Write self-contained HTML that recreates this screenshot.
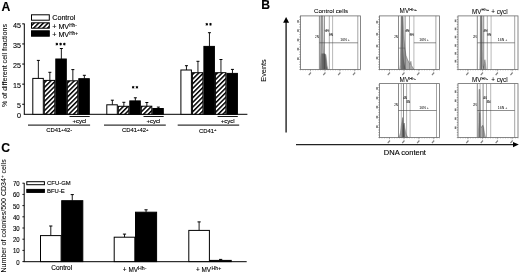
<!DOCTYPE html>
<html><head><meta charset="utf-8"><style>
html,body{margin:0;padding:0;background:#fff;}
svg{display:block;filter:grayscale(100%);}
text{font-family:"Liberation Sans", sans-serif;fill:#000;stroke:#000;stroke-width:0.12px;}
text.t{stroke-width:0.05px;}
text.s{stroke:none;}
</style></head><body>
<svg width="520" height="273" viewBox="0 0 520 273">
<defs>
<pattern id="hatch" patternUnits="userSpaceOnUse" width="3.3" height="3.3" patternTransform="rotate(45)">
<rect x="0" y="0" width="3.3" height="3.3" fill="#fff"/>
<rect x="0" y="0" width="1.5" height="3.3" fill="#000"/>
</pattern>
</defs>
<rect width="520" height="273" fill="#fff"/>

<text x="1.6" y="10.6" font-size="12.2" font-weight="bold" fill="#000">A</text>
<rect x="31.5" y="14.80" width="17.8" height="5.4" fill="#fff" stroke="#000" stroke-width="1"/>
<text x="52.2" y="20.00" font-size="7.2">Control</text>
<rect x="31.5" y="22.80" width="17.8" height="5.4" fill="url(#hatch)" stroke="#000" stroke-width="1"/>
<text x="52.2" y="28.50" font-size="7.2">+ MV<tspan font-size="4.7" dy="-1.4">Hh-</tspan></text>
<rect x="31.5" y="30.80" width="17.8" height="5.4" fill="#000" stroke="#000" stroke-width="1"/>
<text x="52.2" y="36.50" font-size="7.2">+ MV<tspan font-size="4.7" dy="-1.4">Hh+</tspan></text>
<line x1="24.3" y1="23.6" x2="24.3" y2="114.3" stroke="#000" stroke-width="1"/>
<line x1="22.2" y1="23.85" x2="24.3" y2="23.85" stroke="#000" stroke-width="1"/>
<text x="21" y="27.65" font-size="7.2" text-anchor="end">45</text>
<line x1="22.2" y1="43.95" x2="24.3" y2="43.95" stroke="#000" stroke-width="1"/>
<text x="21" y="47.75" font-size="7.2" text-anchor="end">35</text>
<line x1="22.2" y1="64.05" x2="24.3" y2="64.05" stroke="#000" stroke-width="1"/>
<text x="21" y="67.85" font-size="7.2" text-anchor="end">25</text>
<line x1="22.2" y1="84.15" x2="24.3" y2="84.15" stroke="#000" stroke-width="1"/>
<text x="21" y="87.95" font-size="7.2" text-anchor="end">15</text>
<line x1="22.2" y1="104.25" x2="24.3" y2="104.25" stroke="#000" stroke-width="1"/>
<text x="21" y="108.05" font-size="7.2" text-anchor="end">5</text>
<text x="21" y="118.10" font-size="7.2" text-anchor="end">0</text>
<text transform="translate(6.7,65.5) rotate(-90)" font-size="7.1" text-anchor="middle" class="t">% of different cell fractions</text>
<line x1="23.8" y1="114.3" x2="247.4" y2="114.3" stroke="#000" stroke-width="1"/>
<line x1="38.35" y1="78.40" x2="38.35" y2="60.40" stroke="#000" stroke-width="0.9"/>
<line x1="36.85" y1="60.40" x2="39.85" y2="60.40" stroke="#000" stroke-width="1"/>
<line x1="49.85" y1="80.40" x2="49.85" y2="72.30" stroke="#000" stroke-width="0.9"/>
<line x1="48.35" y1="72.30" x2="51.35" y2="72.30" stroke="#000" stroke-width="1"/>
<line x1="61.35" y1="59.00" x2="61.35" y2="48.50" stroke="#000" stroke-width="0.9"/>
<line x1="59.85" y1="48.50" x2="62.85" y2="48.50" stroke="#000" stroke-width="1"/>
<line x1="72.85" y1="80.80" x2="72.85" y2="69.60" stroke="#000" stroke-width="0.9"/>
<line x1="71.35" y1="69.60" x2="74.35" y2="69.60" stroke="#000" stroke-width="1"/>
<line x1="84.35" y1="78.70" x2="84.35" y2="75.30" stroke="#000" stroke-width="0.9"/>
<line x1="82.85" y1="75.30" x2="85.85" y2="75.30" stroke="#000" stroke-width="1"/>
<rect x="32.80" y="78.40" width="10.50" height="35.90" fill="#fff" stroke="#000" stroke-width="1"/>
<rect x="44.30" y="80.40" width="10.50" height="33.90" fill="url(#hatch)" stroke="#000" stroke-width="1"/>
<rect x="55.80" y="59.00" width="10.50" height="55.30" fill="#000" stroke="#000" stroke-width="1"/>
<rect x="67.30" y="80.80" width="10.50" height="33.50" fill="url(#hatch)" stroke="#000" stroke-width="1"/>
<rect x="78.80" y="78.70" width="10.50" height="35.60" fill="#000" stroke="#000" stroke-width="1"/>
<line x1="112.35" y1="104.80" x2="112.35" y2="100.20" stroke="#000" stroke-width="0.9"/>
<line x1="110.85" y1="100.20" x2="113.85" y2="100.20" stroke="#000" stroke-width="1"/>
<line x1="123.85" y1="106.30" x2="123.85" y2="102.30" stroke="#000" stroke-width="0.9"/>
<line x1="122.35" y1="102.30" x2="125.35" y2="102.30" stroke="#000" stroke-width="1"/>
<line x1="135.35" y1="100.90" x2="135.35" y2="97.80" stroke="#000" stroke-width="0.9"/>
<line x1="133.85" y1="97.80" x2="136.85" y2="97.80" stroke="#000" stroke-width="1"/>
<line x1="146.85" y1="106.20" x2="146.85" y2="102.50" stroke="#000" stroke-width="0.9"/>
<line x1="145.35" y1="102.50" x2="148.35" y2="102.50" stroke="#000" stroke-width="1"/>
<line x1="158.35" y1="108.50" x2="158.35" y2="107.10" stroke="#000" stroke-width="0.9"/>
<line x1="156.85" y1="107.10" x2="159.85" y2="107.10" stroke="#000" stroke-width="1"/>
<rect x="106.80" y="104.80" width="10.50" height="9.50" fill="#fff" stroke="#000" stroke-width="1"/>
<rect x="118.30" y="106.30" width="10.50" height="8.00" fill="url(#hatch)" stroke="#000" stroke-width="1"/>
<rect x="129.80" y="100.90" width="10.50" height="13.40" fill="#000" stroke="#000" stroke-width="1"/>
<rect x="141.30" y="106.20" width="10.50" height="8.10" fill="url(#hatch)" stroke="#000" stroke-width="1"/>
<rect x="152.80" y="108.50" width="10.50" height="5.80" fill="#000" stroke="#000" stroke-width="1"/>
<line x1="186.45" y1="70.00" x2="186.45" y2="65.70" stroke="#000" stroke-width="0.9"/>
<line x1="184.95" y1="65.70" x2="187.95" y2="65.70" stroke="#000" stroke-width="1"/>
<line x1="197.95" y1="72.70" x2="197.95" y2="61.30" stroke="#000" stroke-width="0.9"/>
<line x1="196.45" y1="61.30" x2="199.45" y2="61.30" stroke="#000" stroke-width="1"/>
<line x1="209.45" y1="46.40" x2="209.45" y2="32.70" stroke="#000" stroke-width="0.9"/>
<line x1="207.95" y1="32.70" x2="210.95" y2="32.70" stroke="#000" stroke-width="1"/>
<line x1="220.95" y1="72.70" x2="220.95" y2="59.50" stroke="#000" stroke-width="0.9"/>
<line x1="219.45" y1="59.50" x2="222.45" y2="59.50" stroke="#000" stroke-width="1"/>
<line x1="232.45" y1="73.40" x2="232.45" y2="69.40" stroke="#000" stroke-width="0.9"/>
<line x1="230.95" y1="69.40" x2="233.95" y2="69.40" stroke="#000" stroke-width="1"/>
<rect x="180.90" y="70.00" width="10.50" height="44.30" fill="#fff" stroke="#000" stroke-width="1"/>
<rect x="192.40" y="72.70" width="10.50" height="41.60" fill="url(#hatch)" stroke="#000" stroke-width="1"/>
<rect x="203.90" y="46.40" width="10.50" height="67.90" fill="#000" stroke="#000" stroke-width="1"/>
<rect x="215.40" y="72.70" width="10.50" height="41.60" fill="url(#hatch)" stroke="#000" stroke-width="1"/>
<rect x="226.90" y="73.40" width="10.50" height="40.90" fill="#000" stroke="#000" stroke-width="1"/>
<line x1="69.50" y1="116.5" x2="89.70" y2="116.5" stroke="#000" stroke-width="0.9"/>
<text x="79.50" y="122.6" font-size="6.0" text-anchor="middle">+cycl</text>
<line x1="28.00" y1="125.1" x2="90.10" y2="125.1" stroke="#000" stroke-width="1"/>
<line x1="143.50" y1="116.5" x2="163.70" y2="116.5" stroke="#000" stroke-width="0.9"/>
<text x="153.50" y="122.6" font-size="6.0" text-anchor="middle">+cycl</text>
<line x1="104.00" y1="125.1" x2="165.80" y2="125.1" stroke="#000" stroke-width="1"/>
<line x1="217.60" y1="116.5" x2="237.80" y2="116.5" stroke="#000" stroke-width="0.9"/>
<text x="227.60" y="122.6" font-size="6.0" text-anchor="middle">+cycl</text>
<line x1="177.70" y1="125.1" x2="239.20" y2="125.1" stroke="#000" stroke-width="1"/>
<text x="46.3" y="132.4" font-size="5.9">CD41<tspan font-size="4.2" dy="-1.8">+</tspan><tspan dy="1.8">42</tspan><tspan font-size="4.2" dy="-1.8">-</tspan></text>
<text x="122" y="132.4" font-size="5.9">CD41<tspan font-size="4.2" dy="-1.8">+</tspan><tspan dy="1.8">42</tspan><tspan font-size="4.2" dy="-1.8">+</tspan></text>
<text x="199" y="132.5" font-size="5.9">CD41<tspan font-size="4.2" dy="-1.8">+</tspan></text>
<path d="M56.85,42.75L56.85,45.45M55.68,43.43L58.02,44.77M55.68,44.77L58.02,43.43" stroke="#000" stroke-width="0.85" fill="none"/>
<circle cx="56.85" cy="44.10" r="0.75" fill="#000"/>
<path d="M60.60,42.75L60.60,45.45M59.43,43.43L61.77,44.77M59.43,44.77L61.77,43.43" stroke="#000" stroke-width="0.85" fill="none"/>
<circle cx="60.60" cy="44.10" r="0.75" fill="#000"/>
<path d="M64.35,42.75L64.35,45.45M63.18,43.43L65.52,44.77M63.18,44.77L65.52,43.43" stroke="#000" stroke-width="0.85" fill="none"/>
<circle cx="64.35" cy="44.10" r="0.75" fill="#000"/>
<path d="M133.15,85.95L133.15,88.65M131.98,86.62L134.32,87.97M131.98,87.97L134.32,86.62" stroke="#000" stroke-width="0.85" fill="none"/>
<circle cx="133.15" cy="87.30" r="0.75" fill="#000"/>
<path d="M136.95,85.95L136.95,88.65M135.78,86.62L138.12,87.97M135.78,87.97L138.12,86.62" stroke="#000" stroke-width="0.85" fill="none"/>
<circle cx="136.95" cy="87.30" r="0.75" fill="#000"/>
<path d="M206.80,22.95L206.80,25.65M205.63,23.62L207.97,24.98M205.63,24.98L207.97,23.62" stroke="#000" stroke-width="0.85" fill="none"/>
<circle cx="206.80" cy="24.30" r="0.75" fill="#000"/>
<path d="M210.50,22.95L210.50,25.65M209.33,23.62L211.67,24.98M209.33,24.98L211.67,23.62" stroke="#000" stroke-width="0.85" fill="none"/>
<circle cx="210.50" cy="24.30" r="0.75" fill="#000"/>
<text x="261.3" y="8.8" font-size="12.2" font-weight="bold" fill="#000">B</text>
<line x1="286.1" y1="132.5" x2="286.1" y2="21" stroke="#222" stroke-width="1.4"/>
<path d="M283.1,22.7 L286.1,17 L289.1,22.7 Z" fill="#000"/>
<line x1="296" y1="144.6" x2="514" y2="144.6" stroke="#222" stroke-width="1.05"/>
<path d="M513,142 L518.8,144.6 L513,147.2 Z" fill="#000"/>
<text transform="translate(266.4,70.5) rotate(-90)" font-size="7.3" text-anchor="middle" class="t">Events</text>
<text x="404.9" y="155.2" font-size="7.5" text-anchor="middle">DNA content</text>
<text x="331.10" y="12.90" font-size="6.2" text-anchor="middle" class="t">Control cells</text>
<line x1="299.30" y1="69.50" x2="300.50" y2="69.50" stroke="#555" stroke-width="0.5"/>
<line x1="299.30" y1="67.00" x2="300.50" y2="67.00" stroke="#555" stroke-width="0.5"/>
<line x1="299.30" y1="64.50" x2="300.50" y2="64.50" stroke="#555" stroke-width="0.5"/>
<line x1="299.30" y1="62.00" x2="300.50" y2="62.00" stroke="#555" stroke-width="0.5"/>
<line x1="299.30" y1="59.50" x2="300.50" y2="59.50" stroke="#555" stroke-width="0.5"/>
<line x1="299.30" y1="57.00" x2="300.50" y2="57.00" stroke="#555" stroke-width="0.5"/>
<line x1="299.30" y1="54.50" x2="300.50" y2="54.50" stroke="#555" stroke-width="0.5"/>
<line x1="299.30" y1="52.00" x2="300.50" y2="52.00" stroke="#555" stroke-width="0.5"/>
<line x1="299.30" y1="49.50" x2="300.50" y2="49.50" stroke="#555" stroke-width="0.5"/>
<line x1="299.30" y1="47.00" x2="300.50" y2="47.00" stroke="#555" stroke-width="0.5"/>
<line x1="299.30" y1="44.50" x2="300.50" y2="44.50" stroke="#555" stroke-width="0.5"/>
<line x1="299.30" y1="42.00" x2="300.50" y2="42.00" stroke="#555" stroke-width="0.5"/>
<line x1="299.30" y1="39.50" x2="300.50" y2="39.50" stroke="#555" stroke-width="0.5"/>
<line x1="299.30" y1="37.00" x2="300.50" y2="37.00" stroke="#555" stroke-width="0.5"/>
<line x1="299.30" y1="34.50" x2="300.50" y2="34.50" stroke="#555" stroke-width="0.5"/>
<line x1="299.30" y1="32.00" x2="300.50" y2="32.00" stroke="#555" stroke-width="0.5"/>
<line x1="299.30" y1="29.50" x2="300.50" y2="29.50" stroke="#555" stroke-width="0.5"/>
<line x1="299.30" y1="27.00" x2="300.50" y2="27.00" stroke="#555" stroke-width="0.5"/>
<line x1="299.30" y1="24.50" x2="300.50" y2="24.50" stroke="#555" stroke-width="0.5"/>
<line x1="299.30" y1="22.00" x2="300.50" y2="22.00" stroke="#555" stroke-width="0.5"/>
<line x1="299.30" y1="19.50" x2="300.50" y2="19.50" stroke="#555" stroke-width="0.5"/>
<line x1="299.30" y1="17.00" x2="300.50" y2="17.00" stroke="#555" stroke-width="0.5"/>
<rect x="297.20" y="20.10" width="1.6" height="2.6" fill="#777"/>
<rect x="297.20" y="29.30" width="1.6" height="2.6" fill="#777"/>
<rect x="297.20" y="38.70" width="1.6" height="2.6" fill="#777"/>
<rect x="297.20" y="47.80" width="1.6" height="2.6" fill="#777"/>
<rect x="297.20" y="57.40" width="1.6" height="2.6" fill="#777"/>
<path d="M308.30,74.70 L310.50,72.00 L311.40,72.90 L309.20,75.40 Z" fill="#808080"/>
<line x1="310.40" y1="69.50" x2="310.40" y2="71.30" stroke="#666" stroke-width="0.5"/>
<path d="M322.80,74.70 L325.00,72.00 L325.90,72.90 L323.70,75.40 Z" fill="#808080"/>
<line x1="324.90" y1="69.50" x2="324.90" y2="71.30" stroke="#666" stroke-width="0.5"/>
<path d="M337.70,74.70 L339.90,72.00 L340.80,72.90 L338.60,75.40 Z" fill="#808080"/>
<line x1="339.80" y1="69.50" x2="339.80" y2="71.30" stroke="#666" stroke-width="0.5"/>
<path d="M352.50,74.70 L354.70,72.00 L355.60,72.90 L353.40,75.40 Z" fill="#808080"/>
<line x1="354.60" y1="69.50" x2="354.60" y2="71.30" stroke="#666" stroke-width="0.5"/>
<line x1="300.50" y1="69.50" x2="300.50" y2="70.50" stroke="#777" stroke-width="0.4"/>
<line x1="303.00" y1="69.50" x2="303.00" y2="70.50" stroke="#777" stroke-width="0.4"/>
<line x1="305.50" y1="69.50" x2="305.50" y2="70.50" stroke="#777" stroke-width="0.4"/>
<line x1="308.00" y1="69.50" x2="308.00" y2="70.50" stroke="#777" stroke-width="0.4"/>
<line x1="310.50" y1="69.50" x2="310.50" y2="70.50" stroke="#777" stroke-width="0.4"/>
<line x1="313.00" y1="69.50" x2="313.00" y2="70.50" stroke="#777" stroke-width="0.4"/>
<line x1="315.50" y1="69.50" x2="315.50" y2="70.50" stroke="#777" stroke-width="0.4"/>
<line x1="318.00" y1="69.50" x2="318.00" y2="70.50" stroke="#777" stroke-width="0.4"/>
<line x1="320.50" y1="69.50" x2="320.50" y2="70.50" stroke="#777" stroke-width="0.4"/>
<line x1="323.00" y1="69.50" x2="323.00" y2="70.50" stroke="#777" stroke-width="0.4"/>
<line x1="325.50" y1="69.50" x2="325.50" y2="70.50" stroke="#777" stroke-width="0.4"/>
<line x1="328.00" y1="69.50" x2="328.00" y2="70.50" stroke="#777" stroke-width="0.4"/>
<line x1="330.50" y1="69.50" x2="330.50" y2="70.50" stroke="#777" stroke-width="0.4"/>
<line x1="333.00" y1="69.50" x2="333.00" y2="70.50" stroke="#777" stroke-width="0.4"/>
<line x1="335.50" y1="69.50" x2="335.50" y2="70.50" stroke="#777" stroke-width="0.4"/>
<line x1="338.00" y1="69.50" x2="338.00" y2="70.50" stroke="#777" stroke-width="0.4"/>
<line x1="340.50" y1="69.50" x2="340.50" y2="70.50" stroke="#777" stroke-width="0.4"/>
<line x1="343.00" y1="69.50" x2="343.00" y2="70.50" stroke="#777" stroke-width="0.4"/>
<line x1="345.50" y1="69.50" x2="345.50" y2="70.50" stroke="#777" stroke-width="0.4"/>
<line x1="348.00" y1="69.50" x2="348.00" y2="70.50" stroke="#777" stroke-width="0.4"/>
<line x1="350.50" y1="69.50" x2="350.50" y2="70.50" stroke="#777" stroke-width="0.4"/>
<line x1="353.00" y1="69.50" x2="353.00" y2="70.50" stroke="#777" stroke-width="0.4"/>
<line x1="355.50" y1="69.50" x2="355.50" y2="70.50" stroke="#777" stroke-width="0.4"/>
<line x1="358.00" y1="69.50" x2="358.00" y2="70.50" stroke="#777" stroke-width="0.4"/>
<line x1="360.50" y1="69.50" x2="360.50" y2="70.50" stroke="#777" stroke-width="0.4"/>
<polygon points="320.40,69.50 320.70,39.50 320.90,15.90 322.70,15.90 323.10,39.50 323.50,53.50 324.90,54.00 325.90,54.50 326.50,59.50 327.10,65.50 327.70,68.50 328.30,69.50" fill="#acacac" stroke="#3a3a3a" stroke-width="0.35"/><polygon points="320.40,69.50 320.80,57.50 321.00,53.50 323.70,53.50 324.70,54.00 325.50,55.50 326.20,60.50 326.80,66.50 327.50,69.50" fill="#666"/>
<line x1="319.40" y1="15.90" x2="319.40" y2="69.50" stroke="#3a3a3a" stroke-width="0.6"/>
<line x1="321.60" y1="15.90" x2="321.60" y2="69.50" stroke="#888" stroke-width="0.6"/>
<line x1="324.40" y1="15.90" x2="324.40" y2="69.50" stroke="#3a3a3a" stroke-width="0.6"/>
<line x1="329.30" y1="15.90" x2="329.30" y2="69.50" stroke="#777" stroke-width="0.6"/>
<line x1="332.60" y1="15.90" x2="332.60" y2="69.50" stroke="#888" stroke-width="0.6"/>
<line x1="357.80" y1="15.90" x2="357.80" y2="69.50" stroke="#666" stroke-width="0.6"/>
<line x1="319.40" y1="42.80" x2="357.80" y2="42.80" stroke="#444" stroke-width="0.6"/>
<text x="318.90" y="37.90" font-size="3" text-anchor="end" fill="#555" class="s">2N</text>
<text x="326.85" y="31.50" font-size="3" text-anchor="middle" fill="#555" class="s">4N</text>
<text x="330.95" y="35.50" font-size="3" text-anchor="middle" fill="#555" class="s">8N</text>
<line x1="324.40" y1="30.50" x2="329.30" y2="30.50" stroke="#555" stroke-width="0.5"/>
<line x1="329.30" y1="34.50" x2="332.60" y2="34.50" stroke="#555" stroke-width="0.5"/>
<text x="340.30" y="40.80" font-size="3.5" fill="#444" class="s">16N +</text>
<rect x="300.50" y="15.90" width="60" height="53.6" fill="none" stroke="#6a6a6a" stroke-width="0.8"/>
<text transform="translate(399.60,13.20) scale(0.95,1)" font-size="6.7" class="t">MV<tspan font-size="4.4" dy="-2.1">Hh+</tspan></text>
<line x1="378.30" y1="69.50" x2="379.50" y2="69.50" stroke="#555" stroke-width="0.5"/>
<line x1="378.30" y1="67.00" x2="379.50" y2="67.00" stroke="#555" stroke-width="0.5"/>
<line x1="378.30" y1="64.50" x2="379.50" y2="64.50" stroke="#555" stroke-width="0.5"/>
<line x1="378.30" y1="62.00" x2="379.50" y2="62.00" stroke="#555" stroke-width="0.5"/>
<line x1="378.30" y1="59.50" x2="379.50" y2="59.50" stroke="#555" stroke-width="0.5"/>
<line x1="378.30" y1="57.00" x2="379.50" y2="57.00" stroke="#555" stroke-width="0.5"/>
<line x1="378.30" y1="54.50" x2="379.50" y2="54.50" stroke="#555" stroke-width="0.5"/>
<line x1="378.30" y1="52.00" x2="379.50" y2="52.00" stroke="#555" stroke-width="0.5"/>
<line x1="378.30" y1="49.50" x2="379.50" y2="49.50" stroke="#555" stroke-width="0.5"/>
<line x1="378.30" y1="47.00" x2="379.50" y2="47.00" stroke="#555" stroke-width="0.5"/>
<line x1="378.30" y1="44.50" x2="379.50" y2="44.50" stroke="#555" stroke-width="0.5"/>
<line x1="378.30" y1="42.00" x2="379.50" y2="42.00" stroke="#555" stroke-width="0.5"/>
<line x1="378.30" y1="39.50" x2="379.50" y2="39.50" stroke="#555" stroke-width="0.5"/>
<line x1="378.30" y1="37.00" x2="379.50" y2="37.00" stroke="#555" stroke-width="0.5"/>
<line x1="378.30" y1="34.50" x2="379.50" y2="34.50" stroke="#555" stroke-width="0.5"/>
<line x1="378.30" y1="32.00" x2="379.50" y2="32.00" stroke="#555" stroke-width="0.5"/>
<line x1="378.30" y1="29.50" x2="379.50" y2="29.50" stroke="#555" stroke-width="0.5"/>
<line x1="378.30" y1="27.00" x2="379.50" y2="27.00" stroke="#555" stroke-width="0.5"/>
<line x1="378.30" y1="24.50" x2="379.50" y2="24.50" stroke="#555" stroke-width="0.5"/>
<line x1="378.30" y1="22.00" x2="379.50" y2="22.00" stroke="#555" stroke-width="0.5"/>
<line x1="378.30" y1="19.50" x2="379.50" y2="19.50" stroke="#555" stroke-width="0.5"/>
<line x1="378.30" y1="17.00" x2="379.50" y2="17.00" stroke="#555" stroke-width="0.5"/>
<rect x="376.20" y="20.80" width="1.6" height="2.6" fill="#777"/>
<rect x="376.20" y="32.90" width="1.6" height="2.6" fill="#777"/>
<rect x="376.20" y="44.70" width="1.6" height="2.6" fill="#777"/>
<rect x="376.20" y="56.70" width="1.6" height="2.6" fill="#777"/>
<path d="M387.30,74.70 L389.50,72.00 L390.40,72.90 L388.20,75.40 Z" fill="#808080"/>
<line x1="389.40" y1="69.50" x2="389.40" y2="71.30" stroke="#666" stroke-width="0.5"/>
<path d="M401.80,74.70 L404.00,72.00 L404.90,72.90 L402.70,75.40 Z" fill="#808080"/>
<line x1="403.90" y1="69.50" x2="403.90" y2="71.30" stroke="#666" stroke-width="0.5"/>
<path d="M416.70,74.70 L418.90,72.00 L419.80,72.90 L417.60,75.40 Z" fill="#808080"/>
<line x1="418.80" y1="69.50" x2="418.80" y2="71.30" stroke="#666" stroke-width="0.5"/>
<path d="M431.50,74.70 L433.70,72.00 L434.60,72.90 L432.40,75.40 Z" fill="#808080"/>
<line x1="433.60" y1="69.50" x2="433.60" y2="71.30" stroke="#666" stroke-width="0.5"/>
<line x1="379.50" y1="69.50" x2="379.50" y2="70.50" stroke="#777" stroke-width="0.4"/>
<line x1="382.00" y1="69.50" x2="382.00" y2="70.50" stroke="#777" stroke-width="0.4"/>
<line x1="384.50" y1="69.50" x2="384.50" y2="70.50" stroke="#777" stroke-width="0.4"/>
<line x1="387.00" y1="69.50" x2="387.00" y2="70.50" stroke="#777" stroke-width="0.4"/>
<line x1="389.50" y1="69.50" x2="389.50" y2="70.50" stroke="#777" stroke-width="0.4"/>
<line x1="392.00" y1="69.50" x2="392.00" y2="70.50" stroke="#777" stroke-width="0.4"/>
<line x1="394.50" y1="69.50" x2="394.50" y2="70.50" stroke="#777" stroke-width="0.4"/>
<line x1="397.00" y1="69.50" x2="397.00" y2="70.50" stroke="#777" stroke-width="0.4"/>
<line x1="399.50" y1="69.50" x2="399.50" y2="70.50" stroke="#777" stroke-width="0.4"/>
<line x1="402.00" y1="69.50" x2="402.00" y2="70.50" stroke="#777" stroke-width="0.4"/>
<line x1="404.50" y1="69.50" x2="404.50" y2="70.50" stroke="#777" stroke-width="0.4"/>
<line x1="407.00" y1="69.50" x2="407.00" y2="70.50" stroke="#777" stroke-width="0.4"/>
<line x1="409.50" y1="69.50" x2="409.50" y2="70.50" stroke="#777" stroke-width="0.4"/>
<line x1="412.00" y1="69.50" x2="412.00" y2="70.50" stroke="#777" stroke-width="0.4"/>
<line x1="414.50" y1="69.50" x2="414.50" y2="70.50" stroke="#777" stroke-width="0.4"/>
<line x1="417.00" y1="69.50" x2="417.00" y2="70.50" stroke="#777" stroke-width="0.4"/>
<line x1="419.50" y1="69.50" x2="419.50" y2="70.50" stroke="#777" stroke-width="0.4"/>
<line x1="422.00" y1="69.50" x2="422.00" y2="70.50" stroke="#777" stroke-width="0.4"/>
<line x1="424.50" y1="69.50" x2="424.50" y2="70.50" stroke="#777" stroke-width="0.4"/>
<line x1="427.00" y1="69.50" x2="427.00" y2="70.50" stroke="#777" stroke-width="0.4"/>
<line x1="429.50" y1="69.50" x2="429.50" y2="70.50" stroke="#777" stroke-width="0.4"/>
<line x1="432.00" y1="69.50" x2="432.00" y2="70.50" stroke="#777" stroke-width="0.4"/>
<line x1="434.50" y1="69.50" x2="434.50" y2="70.50" stroke="#777" stroke-width="0.4"/>
<line x1="437.00" y1="69.50" x2="437.00" y2="70.50" stroke="#777" stroke-width="0.4"/>
<line x1="439.50" y1="69.50" x2="439.50" y2="70.50" stroke="#777" stroke-width="0.4"/>
<polygon points="399.70,69.50 400.30,64.50 400.80,39.50 401.10,16.50 403.10,16.50 403.50,29.50 404.10,39.50 404.80,47.50 406.00,55.50 407.50,59.50 409.00,62.50 410.10,64.50 410.90,61.30 411.50,65.50 412.50,67.00 413.50,68.50 414.50,69.50" fill="#acacac" stroke="#3a3a3a" stroke-width="0.35"/><polygon points="401.00,69.50 401.30,16.50 402.80,16.50 403.30,49.50 404.00,61.50 405.00,66.50 405.50,69.50" fill="#666"/>
<line x1="398.50" y1="15.90" x2="398.50" y2="69.50" stroke="#3a3a3a" stroke-width="0.6"/>
<line x1="401.80" y1="15.90" x2="401.80" y2="69.50" stroke="#888" stroke-width="0.6"/>
<line x1="405.10" y1="15.90" x2="405.10" y2="69.50" stroke="#3a3a3a" stroke-width="0.6"/>
<line x1="409.50" y1="15.90" x2="409.50" y2="69.50" stroke="#777" stroke-width="0.6"/>
<line x1="413.90" y1="15.90" x2="413.90" y2="69.50" stroke="#888" stroke-width="0.6"/>
<line x1="435.90" y1="15.90" x2="435.90" y2="69.50" stroke="#666" stroke-width="0.6"/>
<line x1="413.90" y1="42.80" x2="435.90" y2="42.80" stroke="#444" stroke-width="0.6"/>
<line x1="398.50" y1="48.10" x2="405.10" y2="48.10" stroke="#555" stroke-width="0.5"/>
<text x="398.00" y="37.90" font-size="3" text-anchor="end" fill="#555" class="s">2N</text>
<text x="407.30" y="31.50" font-size="3" text-anchor="middle" fill="#555" class="s">4N</text>
<text x="411.70" y="35.50" font-size="3" text-anchor="middle" fill="#555" class="s">8N</text>
<line x1="405.10" y1="30.50" x2="409.50" y2="30.50" stroke="#555" stroke-width="0.5"/>
<line x1="409.50" y1="34.50" x2="413.90" y2="34.50" stroke="#555" stroke-width="0.5"/>
<text x="419.30" y="40.80" font-size="3.5" fill="#444" class="s">16N +</text>
<rect x="379.50" y="15.90" width="60" height="53.6" fill="none" stroke="#6a6a6a" stroke-width="0.8"/>
<text transform="translate(471.90,13.50) scale(0.95,1)" font-size="6.7" class="t">MV<tspan font-size="4.4" dy="-2.1">Hh+</tspan></text>
<text x="491.30" y="13.50" font-size="6.3" class="t">+ cycl</text>
<line x1="456.80" y1="69.50" x2="458.00" y2="69.50" stroke="#555" stroke-width="0.5"/>
<line x1="456.80" y1="67.00" x2="458.00" y2="67.00" stroke="#555" stroke-width="0.5"/>
<line x1="456.80" y1="64.50" x2="458.00" y2="64.50" stroke="#555" stroke-width="0.5"/>
<line x1="456.80" y1="62.00" x2="458.00" y2="62.00" stroke="#555" stroke-width="0.5"/>
<line x1="456.80" y1="59.50" x2="458.00" y2="59.50" stroke="#555" stroke-width="0.5"/>
<line x1="456.80" y1="57.00" x2="458.00" y2="57.00" stroke="#555" stroke-width="0.5"/>
<line x1="456.80" y1="54.50" x2="458.00" y2="54.50" stroke="#555" stroke-width="0.5"/>
<line x1="456.80" y1="52.00" x2="458.00" y2="52.00" stroke="#555" stroke-width="0.5"/>
<line x1="456.80" y1="49.50" x2="458.00" y2="49.50" stroke="#555" stroke-width="0.5"/>
<line x1="456.80" y1="47.00" x2="458.00" y2="47.00" stroke="#555" stroke-width="0.5"/>
<line x1="456.80" y1="44.50" x2="458.00" y2="44.50" stroke="#555" stroke-width="0.5"/>
<line x1="456.80" y1="42.00" x2="458.00" y2="42.00" stroke="#555" stroke-width="0.5"/>
<line x1="456.80" y1="39.50" x2="458.00" y2="39.50" stroke="#555" stroke-width="0.5"/>
<line x1="456.80" y1="37.00" x2="458.00" y2="37.00" stroke="#555" stroke-width="0.5"/>
<line x1="456.80" y1="34.50" x2="458.00" y2="34.50" stroke="#555" stroke-width="0.5"/>
<line x1="456.80" y1="32.00" x2="458.00" y2="32.00" stroke="#555" stroke-width="0.5"/>
<line x1="456.80" y1="29.50" x2="458.00" y2="29.50" stroke="#555" stroke-width="0.5"/>
<line x1="456.80" y1="27.00" x2="458.00" y2="27.00" stroke="#555" stroke-width="0.5"/>
<line x1="456.80" y1="24.50" x2="458.00" y2="24.50" stroke="#555" stroke-width="0.5"/>
<line x1="456.80" y1="22.00" x2="458.00" y2="22.00" stroke="#555" stroke-width="0.5"/>
<line x1="456.80" y1="19.50" x2="458.00" y2="19.50" stroke="#555" stroke-width="0.5"/>
<line x1="456.80" y1="17.00" x2="458.00" y2="17.00" stroke="#555" stroke-width="0.5"/>
<rect x="454.70" y="19.50" width="1.6" height="2.6" fill="#777"/>
<rect x="454.70" y="27.60" width="1.6" height="2.6" fill="#777"/>
<rect x="454.70" y="35.70" width="1.6" height="2.6" fill="#777"/>
<rect x="454.70" y="44.20" width="1.6" height="2.6" fill="#777"/>
<rect x="454.70" y="52.10" width="1.6" height="2.6" fill="#777"/>
<rect x="454.70" y="59.90" width="1.6" height="2.6" fill="#777"/>
<path d="M465.80,74.70 L468.00,72.00 L468.90,72.90 L466.70,75.40 Z" fill="#808080"/>
<line x1="467.90" y1="69.50" x2="467.90" y2="71.30" stroke="#666" stroke-width="0.5"/>
<path d="M480.30,74.70 L482.50,72.00 L483.40,72.90 L481.20,75.40 Z" fill="#808080"/>
<line x1="482.40" y1="69.50" x2="482.40" y2="71.30" stroke="#666" stroke-width="0.5"/>
<path d="M495.20,74.70 L497.40,72.00 L498.30,72.90 L496.10,75.40 Z" fill="#808080"/>
<line x1="497.30" y1="69.50" x2="497.30" y2="71.30" stroke="#666" stroke-width="0.5"/>
<path d="M510.00,74.70 L512.20,72.00 L513.10,72.90 L510.90,75.40 Z" fill="#808080"/>
<line x1="512.10" y1="69.50" x2="512.10" y2="71.30" stroke="#666" stroke-width="0.5"/>
<line x1="458.00" y1="69.50" x2="458.00" y2="70.50" stroke="#777" stroke-width="0.4"/>
<line x1="460.50" y1="69.50" x2="460.50" y2="70.50" stroke="#777" stroke-width="0.4"/>
<line x1="463.00" y1="69.50" x2="463.00" y2="70.50" stroke="#777" stroke-width="0.4"/>
<line x1="465.50" y1="69.50" x2="465.50" y2="70.50" stroke="#777" stroke-width="0.4"/>
<line x1="468.00" y1="69.50" x2="468.00" y2="70.50" stroke="#777" stroke-width="0.4"/>
<line x1="470.50" y1="69.50" x2="470.50" y2="70.50" stroke="#777" stroke-width="0.4"/>
<line x1="473.00" y1="69.50" x2="473.00" y2="70.50" stroke="#777" stroke-width="0.4"/>
<line x1="475.50" y1="69.50" x2="475.50" y2="70.50" stroke="#777" stroke-width="0.4"/>
<line x1="478.00" y1="69.50" x2="478.00" y2="70.50" stroke="#777" stroke-width="0.4"/>
<line x1="480.50" y1="69.50" x2="480.50" y2="70.50" stroke="#777" stroke-width="0.4"/>
<line x1="483.00" y1="69.50" x2="483.00" y2="70.50" stroke="#777" stroke-width="0.4"/>
<line x1="485.50" y1="69.50" x2="485.50" y2="70.50" stroke="#777" stroke-width="0.4"/>
<line x1="488.00" y1="69.50" x2="488.00" y2="70.50" stroke="#777" stroke-width="0.4"/>
<line x1="490.50" y1="69.50" x2="490.50" y2="70.50" stroke="#777" stroke-width="0.4"/>
<line x1="493.00" y1="69.50" x2="493.00" y2="70.50" stroke="#777" stroke-width="0.4"/>
<line x1="495.50" y1="69.50" x2="495.50" y2="70.50" stroke="#777" stroke-width="0.4"/>
<line x1="498.00" y1="69.50" x2="498.00" y2="70.50" stroke="#777" stroke-width="0.4"/>
<line x1="500.50" y1="69.50" x2="500.50" y2="70.50" stroke="#777" stroke-width="0.4"/>
<line x1="503.00" y1="69.50" x2="503.00" y2="70.50" stroke="#777" stroke-width="0.4"/>
<line x1="505.50" y1="69.50" x2="505.50" y2="70.50" stroke="#777" stroke-width="0.4"/>
<line x1="508.00" y1="69.50" x2="508.00" y2="70.50" stroke="#777" stroke-width="0.4"/>
<line x1="510.50" y1="69.50" x2="510.50" y2="70.50" stroke="#777" stroke-width="0.4"/>
<line x1="513.00" y1="69.50" x2="513.00" y2="70.50" stroke="#777" stroke-width="0.4"/>
<line x1="515.50" y1="69.50" x2="515.50" y2="70.50" stroke="#777" stroke-width="0.4"/>
<line x1="518.00" y1="69.50" x2="518.00" y2="70.50" stroke="#777" stroke-width="0.4"/>
<polygon points="479.80,69.50 480.20,49.50 480.40,15.90 482.10,15.90 482.40,49.50 482.80,65.50 483.60,67.50 484.30,63.50 484.90,59.70 485.50,63.50 486.00,68.50 486.50,69.50" fill="#acacac" stroke="#3a3a3a" stroke-width="0.35"/><polygon points="480.50,69.50 480.70,15.90 481.70,15.90 481.90,69.50" fill="#666"/>
<line x1="477.30" y1="15.90" x2="477.30" y2="69.50" stroke="#3a3a3a" stroke-width="0.6"/>
<line x1="480.50" y1="15.90" x2="480.50" y2="69.50" stroke="#888" stroke-width="0.6"/>
<line x1="483.70" y1="15.90" x2="483.70" y2="69.50" stroke="#3a3a3a" stroke-width="0.6"/>
<line x1="487.30" y1="15.90" x2="487.30" y2="69.50" stroke="#777" stroke-width="0.6"/>
<line x1="491.10" y1="15.90" x2="491.10" y2="69.50" stroke="#888" stroke-width="0.6"/>
<line x1="514.70" y1="15.90" x2="514.70" y2="69.50" stroke="#666" stroke-width="0.6"/>
<line x1="477.30" y1="42.80" x2="514.70" y2="42.80" stroke="#444" stroke-width="0.6"/>
<text x="476.80" y="37.90" font-size="3" text-anchor="end" fill="#555" class="s">2N</text>
<text x="485.50" y="31.50" font-size="3" text-anchor="middle" fill="#555" class="s">4N</text>
<text x="489.20" y="35.50" font-size="3" text-anchor="middle" fill="#555" class="s">8N</text>
<line x1="483.70" y1="30.50" x2="487.30" y2="30.50" stroke="#555" stroke-width="0.5"/>
<line x1="487.30" y1="34.50" x2="491.10" y2="34.50" stroke="#555" stroke-width="0.5"/>
<text x="497.80" y="40.80" font-size="3.5" fill="#444" class="s">16N +</text>
<rect x="458.00" y="15.90" width="60" height="53.6" fill="none" stroke="#6a6a6a" stroke-width="0.8"/>
<text transform="translate(399.60,81.60) scale(0.95,1)" font-size="6.7" class="t">MV<tspan font-size="4.4" dy="-2.1">Hh-</tspan></text>
<line x1="378.30" y1="137.50" x2="379.50" y2="137.50" stroke="#555" stroke-width="0.5"/>
<line x1="378.30" y1="135.00" x2="379.50" y2="135.00" stroke="#555" stroke-width="0.5"/>
<line x1="378.30" y1="132.50" x2="379.50" y2="132.50" stroke="#555" stroke-width="0.5"/>
<line x1="378.30" y1="130.00" x2="379.50" y2="130.00" stroke="#555" stroke-width="0.5"/>
<line x1="378.30" y1="127.50" x2="379.50" y2="127.50" stroke="#555" stroke-width="0.5"/>
<line x1="378.30" y1="125.00" x2="379.50" y2="125.00" stroke="#555" stroke-width="0.5"/>
<line x1="378.30" y1="122.50" x2="379.50" y2="122.50" stroke="#555" stroke-width="0.5"/>
<line x1="378.30" y1="120.00" x2="379.50" y2="120.00" stroke="#555" stroke-width="0.5"/>
<line x1="378.30" y1="117.50" x2="379.50" y2="117.50" stroke="#555" stroke-width="0.5"/>
<line x1="378.30" y1="115.00" x2="379.50" y2="115.00" stroke="#555" stroke-width="0.5"/>
<line x1="378.30" y1="112.50" x2="379.50" y2="112.50" stroke="#555" stroke-width="0.5"/>
<line x1="378.30" y1="110.00" x2="379.50" y2="110.00" stroke="#555" stroke-width="0.5"/>
<line x1="378.30" y1="107.50" x2="379.50" y2="107.50" stroke="#555" stroke-width="0.5"/>
<line x1="378.30" y1="105.00" x2="379.50" y2="105.00" stroke="#555" stroke-width="0.5"/>
<line x1="378.30" y1="102.50" x2="379.50" y2="102.50" stroke="#555" stroke-width="0.5"/>
<line x1="378.30" y1="100.00" x2="379.50" y2="100.00" stroke="#555" stroke-width="0.5"/>
<line x1="378.30" y1="97.50" x2="379.50" y2="97.50" stroke="#555" stroke-width="0.5"/>
<line x1="378.30" y1="95.00" x2="379.50" y2="95.00" stroke="#555" stroke-width="0.5"/>
<line x1="378.30" y1="92.50" x2="379.50" y2="92.50" stroke="#555" stroke-width="0.5"/>
<line x1="378.30" y1="90.00" x2="379.50" y2="90.00" stroke="#555" stroke-width="0.5"/>
<line x1="378.30" y1="87.50" x2="379.50" y2="87.50" stroke="#555" stroke-width="0.5"/>
<line x1="378.30" y1="85.00" x2="379.50" y2="85.00" stroke="#555" stroke-width="0.5"/>
<rect x="376.20" y="87.10" width="1.6" height="2.6" fill="#777"/>
<rect x="376.20" y="96.70" width="1.6" height="2.6" fill="#777"/>
<rect x="376.20" y="105.80" width="1.6" height="2.6" fill="#777"/>
<rect x="376.20" y="115.80" width="1.6" height="2.6" fill="#777"/>
<rect x="376.20" y="125.40" width="1.6" height="2.6" fill="#777"/>
<path d="M387.30,142.70 L389.50,140.00 L390.40,140.90 L388.20,143.40 Z" fill="#808080"/>
<line x1="389.40" y1="137.50" x2="389.40" y2="139.30" stroke="#666" stroke-width="0.5"/>
<path d="M401.80,142.70 L404.00,140.00 L404.90,140.90 L402.70,143.40 Z" fill="#808080"/>
<line x1="403.90" y1="137.50" x2="403.90" y2="139.30" stroke="#666" stroke-width="0.5"/>
<path d="M416.70,142.70 L418.90,140.00 L419.80,140.90 L417.60,143.40 Z" fill="#808080"/>
<line x1="418.80" y1="137.50" x2="418.80" y2="139.30" stroke="#666" stroke-width="0.5"/>
<path d="M431.50,142.70 L433.70,140.00 L434.60,140.90 L432.40,143.40 Z" fill="#808080"/>
<line x1="433.60" y1="137.50" x2="433.60" y2="139.30" stroke="#666" stroke-width="0.5"/>
<line x1="379.50" y1="137.50" x2="379.50" y2="138.50" stroke="#777" stroke-width="0.4"/>
<line x1="382.00" y1="137.50" x2="382.00" y2="138.50" stroke="#777" stroke-width="0.4"/>
<line x1="384.50" y1="137.50" x2="384.50" y2="138.50" stroke="#777" stroke-width="0.4"/>
<line x1="387.00" y1="137.50" x2="387.00" y2="138.50" stroke="#777" stroke-width="0.4"/>
<line x1="389.50" y1="137.50" x2="389.50" y2="138.50" stroke="#777" stroke-width="0.4"/>
<line x1="392.00" y1="137.50" x2="392.00" y2="138.50" stroke="#777" stroke-width="0.4"/>
<line x1="394.50" y1="137.50" x2="394.50" y2="138.50" stroke="#777" stroke-width="0.4"/>
<line x1="397.00" y1="137.50" x2="397.00" y2="138.50" stroke="#777" stroke-width="0.4"/>
<line x1="399.50" y1="137.50" x2="399.50" y2="138.50" stroke="#777" stroke-width="0.4"/>
<line x1="402.00" y1="137.50" x2="402.00" y2="138.50" stroke="#777" stroke-width="0.4"/>
<line x1="404.50" y1="137.50" x2="404.50" y2="138.50" stroke="#777" stroke-width="0.4"/>
<line x1="407.00" y1="137.50" x2="407.00" y2="138.50" stroke="#777" stroke-width="0.4"/>
<line x1="409.50" y1="137.50" x2="409.50" y2="138.50" stroke="#777" stroke-width="0.4"/>
<line x1="412.00" y1="137.50" x2="412.00" y2="138.50" stroke="#777" stroke-width="0.4"/>
<line x1="414.50" y1="137.50" x2="414.50" y2="138.50" stroke="#777" stroke-width="0.4"/>
<line x1="417.00" y1="137.50" x2="417.00" y2="138.50" stroke="#777" stroke-width="0.4"/>
<line x1="419.50" y1="137.50" x2="419.50" y2="138.50" stroke="#777" stroke-width="0.4"/>
<line x1="422.00" y1="137.50" x2="422.00" y2="138.50" stroke="#777" stroke-width="0.4"/>
<line x1="424.50" y1="137.50" x2="424.50" y2="138.50" stroke="#777" stroke-width="0.4"/>
<line x1="427.00" y1="137.50" x2="427.00" y2="138.50" stroke="#777" stroke-width="0.4"/>
<line x1="429.50" y1="137.50" x2="429.50" y2="138.50" stroke="#777" stroke-width="0.4"/>
<line x1="432.00" y1="137.50" x2="432.00" y2="138.50" stroke="#777" stroke-width="0.4"/>
<line x1="434.50" y1="137.50" x2="434.50" y2="138.50" stroke="#777" stroke-width="0.4"/>
<line x1="437.00" y1="137.50" x2="437.00" y2="138.50" stroke="#777" stroke-width="0.4"/>
<line x1="439.50" y1="137.50" x2="439.50" y2="138.50" stroke="#777" stroke-width="0.4"/>
<polygon points="398.50,137.50 399.50,136.00 400.50,132.50 401.30,125.50 402.00,121.50 402.60,117.50 403.10,123.50 403.70,124.50 404.20,123.00 404.80,127.50 405.50,131.50 406.30,134.50 407.30,136.50 408.50,137.50" fill="#acacac" stroke="#3a3a3a" stroke-width="0.35"/><polygon points="401.70,137.50 402.30,123.50 402.70,117.50 403.10,124.50 403.70,125.50 404.20,123.00 404.70,129.50 405.10,137.50" fill="#666"/>
<line x1="398.50" y1="83.60" x2="398.50" y2="137.50" stroke="#3a3a3a" stroke-width="0.6"/>
<line x1="401.30" y1="83.60" x2="401.30" y2="137.50" stroke="#888" stroke-width="0.6"/>
<line x1="403.50" y1="83.60" x2="403.50" y2="137.50" stroke="#3a3a3a" stroke-width="0.6"/>
<line x1="406.60" y1="83.60" x2="406.60" y2="137.50" stroke="#777" stroke-width="0.6"/>
<line x1="410.10" y1="83.60" x2="410.10" y2="137.50" stroke="#888" stroke-width="0.6"/>
<line x1="436.50" y1="83.60" x2="436.50" y2="137.50" stroke="#666" stroke-width="0.6"/>
<line x1="398.50" y1="110.50" x2="436.50" y2="110.50" stroke="#444" stroke-width="0.6"/>
<text x="398.00" y="105.60" font-size="3" text-anchor="end" fill="#555" class="s">2N</text>
<text x="405.05" y="99.20" font-size="3" text-anchor="middle" fill="#555" class="s">4N</text>
<text x="408.35" y="103.20" font-size="3" text-anchor="middle" fill="#555" class="s">8N</text>
<line x1="403.50" y1="98.20" x2="406.60" y2="98.20" stroke="#555" stroke-width="0.5"/>
<line x1="406.60" y1="102.20" x2="410.10" y2="102.20" stroke="#555" stroke-width="0.5"/>
<text x="419.30" y="108.50" font-size="3.5" fill="#444" class="s">16N +</text>
<rect x="379.50" y="83.60" width="60" height="53.9" fill="none" stroke="#6a6a6a" stroke-width="0.8"/>
<text transform="translate(471.90,81.60) scale(0.95,1)" font-size="6.7" class="t">MV<tspan font-size="4.4" dy="-2.1">Hh-</tspan></text>
<text x="491.30" y="81.60" font-size="6.3" class="t">+ cycl</text>
<line x1="456.80" y1="137.50" x2="458.00" y2="137.50" stroke="#555" stroke-width="0.5"/>
<line x1="456.80" y1="135.00" x2="458.00" y2="135.00" stroke="#555" stroke-width="0.5"/>
<line x1="456.80" y1="132.50" x2="458.00" y2="132.50" stroke="#555" stroke-width="0.5"/>
<line x1="456.80" y1="130.00" x2="458.00" y2="130.00" stroke="#555" stroke-width="0.5"/>
<line x1="456.80" y1="127.50" x2="458.00" y2="127.50" stroke="#555" stroke-width="0.5"/>
<line x1="456.80" y1="125.00" x2="458.00" y2="125.00" stroke="#555" stroke-width="0.5"/>
<line x1="456.80" y1="122.50" x2="458.00" y2="122.50" stroke="#555" stroke-width="0.5"/>
<line x1="456.80" y1="120.00" x2="458.00" y2="120.00" stroke="#555" stroke-width="0.5"/>
<line x1="456.80" y1="117.50" x2="458.00" y2="117.50" stroke="#555" stroke-width="0.5"/>
<line x1="456.80" y1="115.00" x2="458.00" y2="115.00" stroke="#555" stroke-width="0.5"/>
<line x1="456.80" y1="112.50" x2="458.00" y2="112.50" stroke="#555" stroke-width="0.5"/>
<line x1="456.80" y1="110.00" x2="458.00" y2="110.00" stroke="#555" stroke-width="0.5"/>
<line x1="456.80" y1="107.50" x2="458.00" y2="107.50" stroke="#555" stroke-width="0.5"/>
<line x1="456.80" y1="105.00" x2="458.00" y2="105.00" stroke="#555" stroke-width="0.5"/>
<line x1="456.80" y1="102.50" x2="458.00" y2="102.50" stroke="#555" stroke-width="0.5"/>
<line x1="456.80" y1="100.00" x2="458.00" y2="100.00" stroke="#555" stroke-width="0.5"/>
<line x1="456.80" y1="97.50" x2="458.00" y2="97.50" stroke="#555" stroke-width="0.5"/>
<line x1="456.80" y1="95.00" x2="458.00" y2="95.00" stroke="#555" stroke-width="0.5"/>
<line x1="456.80" y1="92.50" x2="458.00" y2="92.50" stroke="#555" stroke-width="0.5"/>
<line x1="456.80" y1="90.00" x2="458.00" y2="90.00" stroke="#555" stroke-width="0.5"/>
<line x1="456.80" y1="87.50" x2="458.00" y2="87.50" stroke="#555" stroke-width="0.5"/>
<line x1="456.80" y1="85.00" x2="458.00" y2="85.00" stroke="#555" stroke-width="0.5"/>
<rect x="454.70" y="90.30" width="1.6" height="2.6" fill="#777"/>
<rect x="454.70" y="99.40" width="1.6" height="2.6" fill="#777"/>
<rect x="454.70" y="108.40" width="1.6" height="2.6" fill="#777"/>
<rect x="454.70" y="117.30" width="1.6" height="2.6" fill="#777"/>
<rect x="454.70" y="126.40" width="1.6" height="2.6" fill="#777"/>
<path d="M465.80,142.70 L468.00,140.00 L468.90,140.90 L466.70,143.40 Z" fill="#808080"/>
<line x1="467.90" y1="137.50" x2="467.90" y2="139.30" stroke="#666" stroke-width="0.5"/>
<path d="M480.30,142.70 L482.50,140.00 L483.40,140.90 L481.20,143.40 Z" fill="#808080"/>
<line x1="482.40" y1="137.50" x2="482.40" y2="139.30" stroke="#666" stroke-width="0.5"/>
<path d="M495.20,142.70 L497.40,140.00 L498.30,140.90 L496.10,143.40 Z" fill="#808080"/>
<line x1="497.30" y1="137.50" x2="497.30" y2="139.30" stroke="#666" stroke-width="0.5"/>
<path d="M510.00,142.70 L512.20,140.00 L513.10,140.90 L510.90,143.40 Z" fill="#808080"/>
<line x1="512.10" y1="137.50" x2="512.10" y2="139.30" stroke="#666" stroke-width="0.5"/>
<line x1="458.00" y1="137.50" x2="458.00" y2="138.50" stroke="#777" stroke-width="0.4"/>
<line x1="460.50" y1="137.50" x2="460.50" y2="138.50" stroke="#777" stroke-width="0.4"/>
<line x1="463.00" y1="137.50" x2="463.00" y2="138.50" stroke="#777" stroke-width="0.4"/>
<line x1="465.50" y1="137.50" x2="465.50" y2="138.50" stroke="#777" stroke-width="0.4"/>
<line x1="468.00" y1="137.50" x2="468.00" y2="138.50" stroke="#777" stroke-width="0.4"/>
<line x1="470.50" y1="137.50" x2="470.50" y2="138.50" stroke="#777" stroke-width="0.4"/>
<line x1="473.00" y1="137.50" x2="473.00" y2="138.50" stroke="#777" stroke-width="0.4"/>
<line x1="475.50" y1="137.50" x2="475.50" y2="138.50" stroke="#777" stroke-width="0.4"/>
<line x1="478.00" y1="137.50" x2="478.00" y2="138.50" stroke="#777" stroke-width="0.4"/>
<line x1="480.50" y1="137.50" x2="480.50" y2="138.50" stroke="#777" stroke-width="0.4"/>
<line x1="483.00" y1="137.50" x2="483.00" y2="138.50" stroke="#777" stroke-width="0.4"/>
<line x1="485.50" y1="137.50" x2="485.50" y2="138.50" stroke="#777" stroke-width="0.4"/>
<line x1="488.00" y1="137.50" x2="488.00" y2="138.50" stroke="#777" stroke-width="0.4"/>
<line x1="490.50" y1="137.50" x2="490.50" y2="138.50" stroke="#777" stroke-width="0.4"/>
<line x1="493.00" y1="137.50" x2="493.00" y2="138.50" stroke="#777" stroke-width="0.4"/>
<line x1="495.50" y1="137.50" x2="495.50" y2="138.50" stroke="#777" stroke-width="0.4"/>
<line x1="498.00" y1="137.50" x2="498.00" y2="138.50" stroke="#777" stroke-width="0.4"/>
<line x1="500.50" y1="137.50" x2="500.50" y2="138.50" stroke="#777" stroke-width="0.4"/>
<line x1="503.00" y1="137.50" x2="503.00" y2="138.50" stroke="#777" stroke-width="0.4"/>
<line x1="505.50" y1="137.50" x2="505.50" y2="138.50" stroke="#777" stroke-width="0.4"/>
<line x1="508.00" y1="137.50" x2="508.00" y2="138.50" stroke="#777" stroke-width="0.4"/>
<line x1="510.50" y1="137.50" x2="510.50" y2="138.50" stroke="#777" stroke-width="0.4"/>
<line x1="513.00" y1="137.50" x2="513.00" y2="138.50" stroke="#777" stroke-width="0.4"/>
<line x1="515.50" y1="137.50" x2="515.50" y2="138.50" stroke="#777" stroke-width="0.4"/>
<line x1="518.00" y1="137.50" x2="518.00" y2="138.50" stroke="#777" stroke-width="0.4"/>
<polygon points="478.30,137.50 478.70,122.50 479.00,89.50 480.00,89.50 480.40,112.50 480.80,125.50 481.30,127.50 482.00,126.50 482.80,125.20 483.60,127.50 484.40,132.50 485.30,136.50 486.00,137.50" fill="#acacac" stroke="#3a3a3a" stroke-width="0.35"/><polygon points="478.90,137.50 479.10,112.50 480.20,112.50 480.50,137.50" fill="#666"/>
<line x1="477.30" y1="83.60" x2="477.30" y2="137.50" stroke="#3a3a3a" stroke-width="0.6"/>
<line x1="480.10" y1="83.60" x2="480.10" y2="137.50" stroke="#888" stroke-width="0.6"/>
<line x1="483.10" y1="83.60" x2="483.10" y2="137.50" stroke="#3a3a3a" stroke-width="0.6"/>
<line x1="486.50" y1="83.60" x2="486.50" y2="137.50" stroke="#777" stroke-width="0.6"/>
<line x1="490.70" y1="83.60" x2="490.70" y2="137.50" stroke="#888" stroke-width="0.6"/>
<line x1="514.70" y1="83.60" x2="514.70" y2="137.50" stroke="#666" stroke-width="0.6"/>
<line x1="477.30" y1="110.50" x2="514.70" y2="110.50" stroke="#444" stroke-width="0.6"/>
<text x="476.80" y="105.60" font-size="3" text-anchor="end" fill="#555" class="s">2N</text>
<text x="484.80" y="99.20" font-size="3" text-anchor="middle" fill="#555" class="s">4N</text>
<text x="488.60" y="103.20" font-size="3" text-anchor="middle" fill="#555" class="s">8N</text>
<line x1="483.10" y1="98.20" x2="486.50" y2="98.20" stroke="#555" stroke-width="0.5"/>
<line x1="486.50" y1="102.20" x2="490.70" y2="102.20" stroke="#555" stroke-width="0.5"/>
<text x="497.80" y="108.50" font-size="3.5" fill="#444" class="s">16N +</text>
<rect x="458.00" y="83.60" width="60" height="53.9" fill="none" stroke="#6a6a6a" stroke-width="0.8"/>
<text x="1.3" y="151.8" font-size="12.2" font-weight="bold" fill="#000">C</text>
<line x1="24.2" y1="182.9" x2="24.2" y2="261.7" stroke="#000" stroke-width="1"/>
<line x1="22.4" y1="183.20" x2="24.2" y2="183.20" stroke="#000" stroke-width="0.9"/>
<text transform="translate(19.6,186.10) scale(0.9,1)" font-size="6.7" text-anchor="end">70</text>
<line x1="22.4" y1="194.40" x2="24.2" y2="194.40" stroke="#000" stroke-width="0.9"/>
<text transform="translate(19.6,197.30) scale(0.9,1)" font-size="6.7" text-anchor="end">60</text>
<line x1="22.4" y1="205.60" x2="24.2" y2="205.60" stroke="#000" stroke-width="0.9"/>
<text transform="translate(19.6,208.50) scale(0.9,1)" font-size="6.7" text-anchor="end">50</text>
<line x1="22.4" y1="216.80" x2="24.2" y2="216.80" stroke="#000" stroke-width="0.9"/>
<text transform="translate(19.6,219.70) scale(0.9,1)" font-size="6.7" text-anchor="end">40</text>
<line x1="22.4" y1="228.00" x2="24.2" y2="228.00" stroke="#000" stroke-width="0.9"/>
<text transform="translate(19.6,230.90) scale(0.9,1)" font-size="6.7" text-anchor="end">30</text>
<line x1="22.4" y1="239.20" x2="24.2" y2="239.20" stroke="#000" stroke-width="0.9"/>
<text transform="translate(19.6,242.10) scale(0.9,1)" font-size="6.7" text-anchor="end">20</text>
<line x1="22.4" y1="250.40" x2="24.2" y2="250.40" stroke="#000" stroke-width="0.9"/>
<text transform="translate(19.6,253.30) scale(0.9,1)" font-size="6.7" text-anchor="end">10</text>
<line x1="22.4" y1="261.60" x2="24.2" y2="261.60" stroke="#000" stroke-width="0.9"/>
<text transform="translate(19.6,264.50) scale(0.9,1)" font-size="6.7" text-anchor="end">0</text>
<line x1="23.7" y1="261.7" x2="246.7" y2="261.7" stroke="#000" stroke-width="1"/>
<text transform="translate(6.3,215.9) rotate(-90)" font-size="7.05" text-anchor="middle" class="t">Number of colonies/500 CD34<tspan font-size="4.6" dy="-2.6">+</tspan><tspan dy="2.6"> cells</tspan></text>
<rect x="26.8" y="181.7" width="17.6" height="3" fill="#fff" stroke="#000" stroke-width="1"/>
<rect x="26.8" y="189.4" width="17.6" height="3" fill="#000" stroke="#000" stroke-width="1"/>
<text x="47.1" y="185.3" font-size="5.9">CFU-GM</text>
<text x="47.1" y="193" font-size="5.9">BFU-E</text>
<line x1="50.80" y1="235.60" x2="50.80" y2="226.00" stroke="#000" stroke-width="0.9"/>
<line x1="49.20" y1="226.00" x2="52.40" y2="226.00" stroke="#000" stroke-width="1"/>
<rect x="40.50" y="235.60" width="20.60" height="26.00" fill="#fff" stroke="#000" stroke-width="1"/>
<line x1="72.25" y1="200.70" x2="72.25" y2="194.60" stroke="#000" stroke-width="0.9"/>
<line x1="70.65" y1="194.60" x2="73.85" y2="194.60" stroke="#000" stroke-width="1"/>
<rect x="61.70" y="200.70" width="21.10" height="60.90" fill="#000" stroke="#000" stroke-width="1"/>
<line x1="124.50" y1="237.20" x2="124.50" y2="234.10" stroke="#000" stroke-width="0.9"/>
<line x1="122.90" y1="234.10" x2="126.10" y2="234.10" stroke="#000" stroke-width="1"/>
<rect x="114.20" y="237.20" width="20.60" height="24.40" fill="#fff" stroke="#000" stroke-width="1"/>
<line x1="146.05" y1="212.20" x2="146.05" y2="209.80" stroke="#000" stroke-width="0.9"/>
<line x1="144.45" y1="209.80" x2="147.65" y2="209.80" stroke="#000" stroke-width="1"/>
<rect x="135.50" y="212.20" width="21.10" height="49.40" fill="#000" stroke="#000" stroke-width="1"/>
<line x1="199.10" y1="230.40" x2="199.10" y2="221.90" stroke="#000" stroke-width="0.9"/>
<line x1="197.50" y1="221.90" x2="200.70" y2="221.90" stroke="#000" stroke-width="1"/>
<rect x="188.80" y="230.40" width="20.60" height="31.20" fill="#fff" stroke="#000" stroke-width="1"/>
<line x1="220.65" y1="260.40" x2="220.65" y2="259.40" stroke="#000" stroke-width="0.9"/>
<line x1="219.05" y1="259.40" x2="222.25" y2="259.40" stroke="#000" stroke-width="1"/>
<rect x="210.10" y="260.40" width="21.10" height="1.20" fill="#000" stroke="#000" stroke-width="1"/>
<text x="61.7" y="270" font-size="6.5" text-anchor="middle">Control</text>
<text y="271.8" font-size="6.4"><tspan x="122.7">+</tspan><tspan x="128.5">MV</tspan><tspan x="138.1" font-size="5.2" dy="-2">Hh-</tspan></text>
<text y="271.8" font-size="6.4"><tspan x="196">+</tspan><tspan x="201.4">MV</tspan><tspan x="211.5" font-size="5.2" dy="-2">Hh+</tspan></text>
</svg></body></html>
